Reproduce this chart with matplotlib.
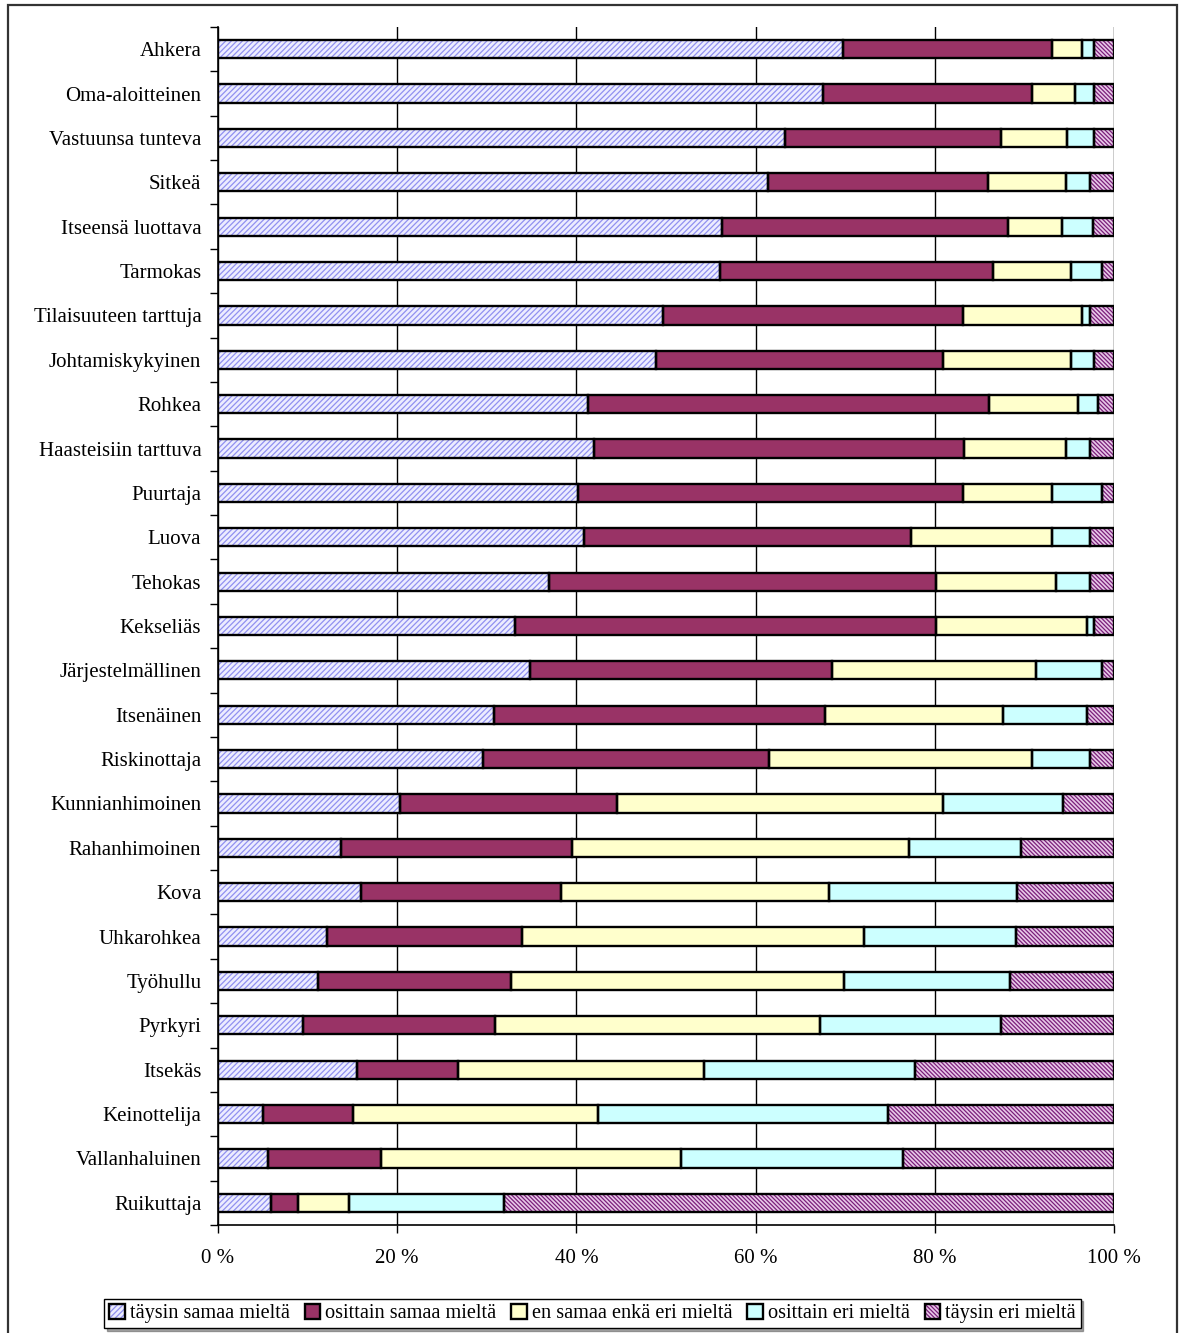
import numpy as np
import matplotlib
matplotlib.use('Agg')
import matplotlib.pyplot as plt
from matplotlib.patches import Patch, Rectangle
from matplotlib.ticker import FuncFormatter, MultipleLocator

plt.rcParams['font.family'] = ['Liberation Serif', 'DejaVu Serif']
plt.rcParams['hatch.linewidth'] = 0.9

categories = [
    'Ahkera', 'Oma-aloitteinen', 'Vastuunsa tunteva', 'Sitkeä', 'Itseensä luottava',
    'Tarmokas', 'Tilaisuuteen tarttuja', 'Johtamiskykyinen', 'Rohkea',
    'Haasteisiin tarttuva', 'Puurtaja', 'Luova', 'Tehokas', 'Kekseliäs',
    'Järjestelmällinen', 'Itsenäinen', 'Riskinottaja', 'Kunnianhimoinen',
    'Rahanhimoinen', 'Kova', 'Uhkarohkea', 'Työhullu', 'Pyrkyri', 'Itsekäs',
    'Keinottelija', 'Vallanhaluinen', 'Ruikuttaja',
]

taysin_samaa = [69.8, 67.5, 63.3, 61.4, 56.3, 56.0, 49.7, 48.9, 41.3, 42.0, 40.2, 40.8, 36.9, 33.1,
                34.8, 30.8, 29.6, 20.3, 13.7, 16.0, 12.2, 11.2, 9.5, 15.5, 5.0, 5.6, 5.9]
osittain_samaa = [23.3, 23.3, 24.1, 24.5, 31.9, 30.5, 33.4, 32.0, 44.7, 41.3, 42.9, 36.5, 43.2, 47.0,
                  33.7, 36.9, 31.9, 24.2, 25.8, 22.3, 21.7, 21.5, 21.4, 11.3, 10.1, 12.6, 3.0]
en_samaa_enka = [3.3, 4.8, 7.4, 8.7, 6.0, 8.7, 13.3, 14.3, 10.0, 11.3, 10.0, 15.8, 13.4, 16.9,
                 22.8, 19.9, 29.3, 36.4, 37.6, 29.9, 38.2, 37.2, 36.3, 27.4, 27.3, 33.5, 5.7]
osittain_eri = [1.4, 2.2, 3.0, 2.7, 3.5, 3.5, 0.9, 2.6, 2.2, 2.7, 5.6, 4.2, 3.8, 0.8,
                7.4, 9.4, 6.5, 13.4, 12.5, 21.0, 17.0, 18.5, 20.2, 23.6, 32.4, 24.8, 17.3]
taysin_eri = [2.2, 2.2, 2.2, 2.7, 2.3, 1.3, 2.7, 2.2, 1.8, 2.7, 1.3, 2.7, 2.7, 2.2,
              1.3, 3.0, 2.7, 5.7, 10.4, 10.8, 10.9, 11.6, 12.6, 22.2, 25.2, 23.5, 68.1]

series_names = ['täysin samaa mieltä', 'osittain samaa mieltä', 'en samaa enkä eri mieltä',
                'osittain eri mieltä', 'täysin eri mieltä']
series = [taysin_samaa, osittain_samaa, en_samaa_enka, osittain_eri, taysin_eri]

# face colour, hatch, hatch colour
styles = [
    ('#ececff', '//////', '#9090f0'),
    ('#993366', None, '#993366'),
    ('#ffffcc', None, '#ffffcc'),
    ('#ccffff', None, '#ccffff'),
    ('#e8c8e8', '\\\\\\\\\\\\\\\\', '#7a1f7a'),
]

fig = plt.figure(figsize=(11.83, 13.33), dpi=100)
ax = fig.add_axes([218 / 1183, 108 / 1333, 896 / 1183, 1198 / 1333])

data = np.array(series, dtype=float)
totals = data.sum(axis=0)
data = data / totals * 100
y = np.arange(len(categories))
left = np.zeros(len(categories))
bar_h = 0.41

handles = []
for vals, (fc, hatch, hc), name in zip(data, styles, series_names):
    ax.barh(y, vals, left=left, height=bar_h, color=fc, hatch=hatch,
            edgecolor=hc, linewidth=0, zorder=3)
    ax.barh(y, vals, left=left, height=bar_h, fill=False,
            edgecolor='black', linewidth=1.7, zorder=4)
    left += vals
    h1 = Patch(facecolor=fc, hatch=hatch, edgecolor=hc, linewidth=0)
    h2 = Patch(fill=False, edgecolor='black', linewidth=1.7)
    handles.append((h1, h2))

ax.set_xlim(0, 100)
ax.set_ylim(len(categories) - 0.5, -0.5)
ax.set_yticks(y)
ax.set_yticklabels(categories, fontsize=15)
ax.set_yticks(np.arange(len(categories) + 1) - 0.5, minor=True)
ax.tick_params(axis='y', which='major', length=0, pad=12)
ax.tick_params(axis='y', which='minor', length=6, direction='out', width=1)
ax.xaxis.set_major_locator(MultipleLocator(20))
ax.xaxis.set_major_formatter(FuncFormatter(lambda v, p: f'{int(v)} %'))
ax.tick_params(axis='x', length=6, direction='out', width=1, labelsize=15, pad=11)
ax.grid(axis='x', color='black', linewidth=1, zorder=0)
for s in ['top', 'right']:
    ax.spines[s].set_visible(False)
for s in ['left', 'bottom']:
    ax.spines[s].set_linewidth(1.2)
ax.set_axisbelow(True)

leg = fig.legend(handles, series_names, loc='center', bbox_to_anchor=(0.5008, 0.0146),
                 ncol=5, fontsize=14.6, frameon=True, fancybox=False, shadow=True,
                 handlelength=0.75, handleheight=0.75, handletextpad=0.25,
                 columnspacing=0.75, borderpad=0.25, borderaxespad=0)
leg.get_frame().set_edgecolor('black')
leg.get_frame().set_linewidth(1)

fig.patches.append(Rectangle((8 / 1183, -0.01), 1169 / 1183, 1.01 - 5 / 1333,
                             transform=fig.transFigure, fill=False,
                             edgecolor='#333333', linewidth=1.6))

fig.savefig('out.png', dpi=100)
